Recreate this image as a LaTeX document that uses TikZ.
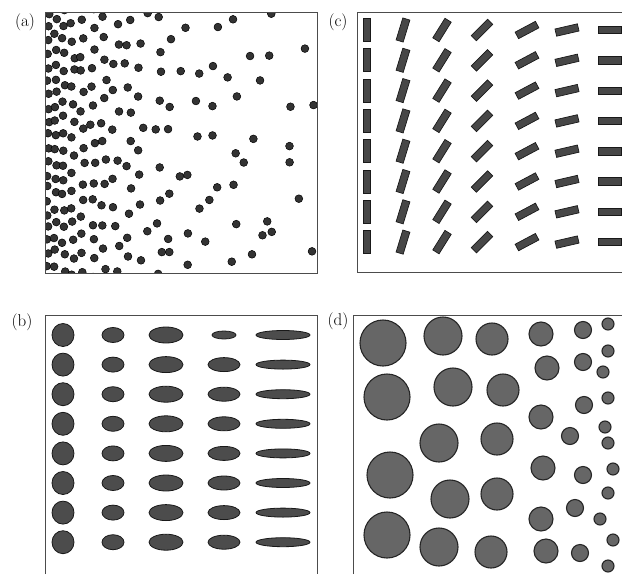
\documentclass[tikz,border=0pt]{standalone}
\usetikzlibrary{calc}

\begin{document}
\begin{tikzpicture}[x=1pt, y=-1pt]
    \tikzset{
        panelbox/.style={draw=black!70, line width=0.9pt},
        dot/.style={fill=black!80, draw=black, line width=0.5pt},
        rod/.style={fill=black!72, draw=black!90, line width=0.7pt},
        blob/.style={fill=black!70, draw=black!90, line width=0.8pt},
        disk/.style={fill=black!60, draw=black!85, line width=1.1pt},
        lbl/.style={font=\fontsize{17}{17}\selectfont, inner sep=0pt}
    }
    \useasboundingbox (0,0) rectangle (622,574);

    % (a) dots, getting sparser to the right
    \node[lbl] (la) at (25,22) {(a)};
    \begin{scope}
        \clip (45,12) rectangle (317,273);
        \pgfmathsetseed{11}
        \foreach \cx in {48,55.6,63.8,72.7,82.3,92.6,103.8,115.8,128.9,142.9,158.1,174.5,192.2,211.4,232.1,254.4,278.5,304.5}{
            \pgfmathsetmacro{\ss}{9.5+0.1*(\cx-48)}
            \pgfmathsetmacro{\jit}{0.3+0.6*(\cx-48)/270}
            \pgfmathsetmacro{\off}{rnd*1.4*\ss}
            \pgfmathtruncatemacro{\nrow}{270/(1.4*\ss)+1}
            \foreach \k in {0,...,\nrow}{
                \pgfmathsetmacro{\px}{\cx+\jit*(rnd-0.5)*\ss}
                \pgfmathsetmacro{\py}{6+\off+1.4*\k*\ss+1.4*\jit*(rnd-0.5)*\ss}
                \path[dot] (\px,\py) circle (3.9);
            }
        }
    \end{scope}
    \draw[panelbox] (45,12) rectangle (317,273);

    % (c) rods turning from vertical to horizontal
    \node[lbl] (lc) at (338,22) {(c)};
    \foreach \cx/\ang in {367/90,403/73,442/58,482/45,527/28,567/13,610/0}{
        \foreach \j in {0,...,7}{
            \pgfmathsetmacro{\cy}{30+30.3*\j}
            \path[rod, rotate around={\ang:(\cx,\cy)}] (\cx-11.5,\cy-3.7) rectangle (\cx+11.5,\cy+3.7);
        }
    }
    \draw[panelbox] (622,12) -- (357,12) -- (357,272) -- (622,272);

    % (b) ellipses getting flatter
    \node[lbl] (lb) at (22,322) {(b)};
    \foreach \cx/\rx/\ry/\js in {63/11/11.5/0,113/11/7.5/0,166/17/8/0,224/16/7/1,283/27/4.5/0}{
        \foreach \j in {\js,...,7}{
            \pgfmathsetmacro{\cy}{335+29.6*\j}
            \path[blob] (\cx,\cy) ellipse [x radius=\rx, y radius=\ry];
        }
    }
    \path[blob] (224,335) ellipse [x radius=12, y radius=4];
    \draw[panelbox] (45,574) -- (45,315) -- (317,315) -- (317,574);

    % (d) disks getting smaller
    \node[lbl] (ld) at (338,321) {(d)};
    \foreach \cx/\cy/\r in {383/343/23,387/397/23,390/475/23,387/535/23,
        443/336/19,453/387/19,439/443/19,450/499/19,439/547/19,
        492/339/16,503/390/16,497/439/16,497/494/16,491/552/16,
        541/334/12,547/368/12,541/417/12,543/468/12,541/519/12,546/551/12,
        583/330/8.5,583/362/8.5,584/405/8.5,570/436/8.5,583/475/8.5,575/508/8.5,580/553/8.5,
        608/324/6,608/351/6,603/372/6,608/398/6,605/427/6,608/443/6,613/469/6,608/493/6,600/519/6,613/540/6,608/566/6}{
        \path[disk] (\cx,\cy) circle (\r);
    }
    \draw[panelbox] (353,574) -- (353,315) -- (622,315);
\end{tikzpicture}
\end{document}
